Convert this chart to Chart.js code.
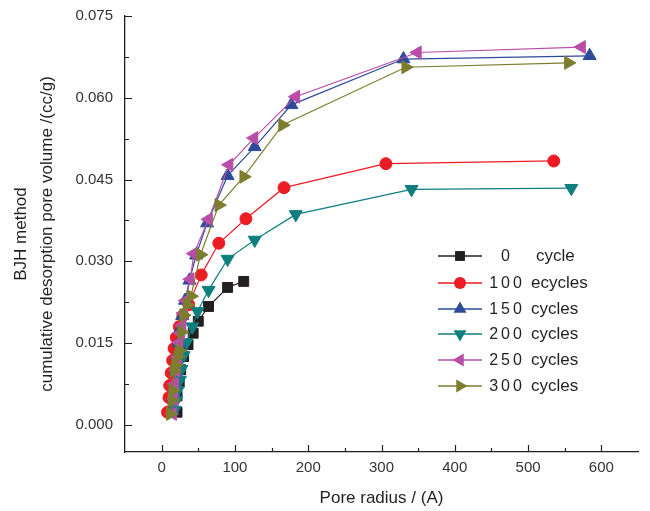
<!DOCTYPE html>
<html>
<head>
<meta charset="utf-8">
<script src="https://cdn.jsdelivr.net/npm/chart.js@4.4.0/dist/chart.umd.js"></script>
<style>
  html, body { margin: 0; padding: 0; background: #fff; }
  #wrap { width: 650px; height: 511px; position: relative; }
</style>
</head>
<body>
<div id="wrap"><canvas id="myChart"></canvas></div>
<script>
// Pore radius (A) and cumulative pore volume (cc/g) per cycling state
const radius0 = [21, 21, 24, 26, 30, 36, 43, 50, 64, 90, 112];
const volume0 = [0.0023, 0.0053, 0.0078, 0.0101, 0.0125, 0.0147, 0.0168, 0.0190, 0.0217, 0.0252, 0.0263];

const radius100 = [8, 10, 11, 13, 15, 17, 20, 24, 29, 37, 54, 78, 115, 167, 306, 535];
const volume100 = [0.0023, 0.0050, 0.0072, 0.0095, 0.0118, 0.0140, 0.0160, 0.0180, 0.0200, 0.0220, 0.0275, 0.0333, 0.0378, 0.0435, 0.0479, 0.0484];

const radius150 = [15, 16, 18, 19, 21, 23, 25, 28, 32, 38, 47, 62, 90, 127, 177, 330, 584];
const volume150 = [0.0025, 0.0050, 0.0075, 0.0100, 0.0125, 0.0150, 0.0175, 0.0200, 0.0228, 0.0265, 0.0311, 0.0370, 0.0457, 0.0510, 0.0587, 0.0671, 0.0677];

const radius200 = [18, 20, 22, 25, 27, 30, 34, 42, 49, 64, 90, 127, 183, 341, 559];
const volume200 = [0.0027, 0.0045, 0.0063, 0.0082, 0.0102, 0.0127, 0.0151, 0.0180, 0.0208, 0.0247, 0.0304, 0.0339, 0.0386, 0.0432, 0.0434];

const radius250 = [15, 17, 18, 20, 22, 24, 26, 28, 30, 33, 39, 44, 64, 92, 126, 183, 349, 573];
const volume250 = [0.0020, 0.0047, 0.0075, 0.0100, 0.0124, 0.0151, 0.0168, 0.0182, 0.0205, 0.0228, 0.0267, 0.0314, 0.0377, 0.0477, 0.0526, 0.0602, 0.0683, 0.0693];

const radius300 = [12, 14, 15, 17, 19, 22, 24, 27, 30, 35, 40, 53, 78, 112, 165, 333, 555];
const volume300 = [0.0020, 0.0045, 0.0063, 0.0099, 0.0109, 0.0125, 0.0136, 0.0170, 0.0201, 0.0220, 0.0236, 0.0312, 0.0403, 0.0455, 0.0550, 0.0656, 0.0664];

const legendNumbers = ['0', '100', '150', '200', '250', '300'];
const legendWords = ['cycle', 'ecycles', 'cycles', 'cycles', 'cycles', 'cycles'];

const xTicks = [0, 100, 200, 300, 400, 500, 600];
const xMinorTicks = [50, 150, 250, 350, 450, 550];
const yTicks = [0.000, 0.015, 0.030, 0.045, 0.060, 0.075];
const yMinorTicks = [0.0075, 0.0225, 0.0375, 0.0525, 0.0675];

const FONT = '"Liberation Sans", Arial, sans-serif';
const INK = '#231f20';

const styles = [
    { color: '#231f20', pointStyle: 'rect', rotation: 0, radius: 7 },
    { color: '#ed1c24', pointStyle: 'circle', rotation: 0, radius: 6 },
    { color: '#2e4b9b', pointStyle: 'triangle', rotation: 0, radius: 7.5 },
    { color: '#0f7e7e', pointStyle: 'triangle', rotation: 180, radius: 7.5 },
    { color: '#b94ea8', pointStyle: 'triangle', rotation: 270, radius: 7.5 },
    { color: '#7d7d2f', pointStyle: 'triangle', rotation: 90, radius: 7.5 }
];

const seriesX = [radius0, radius100, radius150, radius200, radius250, radius300];
const seriesY = [volume0, volume100, volume150, volume200, volume250, volume300];

function toPoints(xs, ys) {
    return xs.map((x, i) => ({ x: x, y: ys[i] }));
}

const datasets = seriesX.map((xs, i) => ({
    label: legendNumbers[i] + ' ' + legendWords[i],
    data: toPoints(xs, seriesY[i]),
    showLine: true,
    borderColor: styles[i].color,
    backgroundColor: styles[i].color,
    borderWidth: 1.2,
    pointStyle: styles[i].pointStyle,
    rotation: styles[i].rotation,
    pointRadius: styles[i].radius,
    pointBorderWidth: 1,
    pointBackgroundColor: styles[i].color,
    pointBorderColor: styles[i].color,
    order: 5 - i
}));

// Draws one marker the same way Chart.js does for its points
function drawMarker(ctx, style, x, y) {
    const r = style.radius;
    let rad = style.rotation * Math.PI / 180;
    ctx.beginPath();
    if (style.pointStyle === 'circle') {
        ctx.arc(x, y, r, 0, Math.PI * 2);
    } else if (style.pointStyle === 'rect') {
        const h = r * Math.SQRT1_2;
        ctx.rect(x - h, y - h, 2 * h, 2 * h);
    } else {
        for (let k = 0; k < 3; k++) {
            const px = x + Math.sin(rad) * r;
            const py = y - Math.cos(rad) * r;
            if (k === 0) ctx.moveTo(px, py); else ctx.lineTo(px, py);
            rad += 2 * Math.PI / 3;
        }
        ctx.closePath();
    }
    ctx.fillStyle = style.color;
    ctx.fill();
}

// Inward major/minor tick marks on the left and bottom axes
const inwardTicks = {
    id: 'inwardTicks',
    afterDraw(chart) {
        const ctx = chart.ctx;
        const xs = chart.scales.x;
        const ys = chart.scales.y;
        const area = chart.chartArea;
        ctx.save();
        ctx.strokeStyle = INK;
        ctx.lineWidth = 1.2;
        ctx.beginPath();
        xTicks.forEach(v => {
            const px = Math.round(xs.getPixelForValue(v)) + 0.5;
            ctx.moveTo(px, area.bottom);
            ctx.lineTo(px, area.bottom - 7);
        });
        xMinorTicks.forEach(v => {
            const px = Math.round(xs.getPixelForValue(v)) + 0.5;
            ctx.moveTo(px, area.bottom);
            ctx.lineTo(px, area.bottom - 4);
        });
        yTicks.forEach(v => {
            const py = Math.round(ys.getPixelForValue(v)) + 0.5;
            ctx.moveTo(area.left, py);
            ctx.lineTo(area.left + 7, py);
        });
        yMinorTicks.forEach(v => {
            const py = Math.round(ys.getPixelForValue(v)) + 0.5;
            ctx.moveTo(area.left, py);
            ctx.lineTo(area.left + 4, py);
        });
        ctx.stroke();
        ctx.restore();
    }
};

// Legend box inside the plot, at the right of the steep part of the curves
const boxLegend = {
    id: 'boxLegend',
    afterDraw(chart) {
        const ctx = chart.ctx;
        const rowY = [256, 283, 309, 334, 360, 386];
        ctx.save();
        styles.forEach((st, i) => {
            const y = rowY[i];
            ctx.strokeStyle = st.color;
            ctx.lineWidth = 1.5;
            ctx.beginPath();
            ctx.moveTo(438, y);
            ctx.lineTo(482, y);
            ctx.stroke();
            drawMarker(ctx, st, 460, y);

            ctx.fillStyle = INK;
            ctx.font = '16px ' + FONT;
            ctx.textBaseline = 'middle';
            ctx.textAlign = 'center';
            ctx.letterSpacing = '3px';
            ctx.fillText(legendNumbers[i], 507, y + 1);
            ctx.letterSpacing = '0px';
            ctx.textAlign = 'left';
            ctx.font = '17px ' + FONT;
            ctx.fillText(legendWords[i], i === 0 ? 536 : 531, y);
        });
        ctx.restore();
    }
};

const ctx = document.getElementById('myChart');

new Chart(ctx, {
    type: 'scatter',
    data: { datasets: datasets },
    options: {
        responsive: true,
        maintainAspectRatio: false,
        animation: false,
        layout: { padding: { top: 16, right: 12, left: 0, bottom: 0 } },
        plugins: {
            legend: { display: false },
            tooltip: { enabled: false }
        },
        scales: {
            x: {
                type: 'linear',
                min: -50,
                max: 650,
                afterBuildTicks: (scale) => {
                    scale.ticks = xTicks.map(v => ({ value: v }));
                },
                afterFit: (scale) => {
                    scale.height = 59;
                    scale.paddingLeft = 0;
                    scale.paddingRight = 0;
                },
                grid: { display: false, drawTicks: false },
                border: { display: true, color: INK, width: 1.3 },
                ticks: {
                    color: '#333',
                    padding: 7,
                    maxRotation: 0,
                    font: { family: FONT, size: 15 },
                    callback: (v) => String(v)
                },
                title: {
                    display: true,
                    text: 'Pore radius / (A)',
                    color: INK,
                    font: { family: FONT, size: 17 },
                    padding: { top: 6, bottom: 2 }
                }
            },
            y: {
                type: 'linear',
                min: -0.005,
                max: 0.075,
                afterBuildTicks: (scale) => {
                    scale.ticks = yTicks.map(v => ({ value: v }));
                },
                afterFit: (scale) => {
                    scale.width = 125;
                    scale.paddingTop = 0;
                    scale.paddingBottom = 0;
                },
                grid: { display: false, drawTicks: false },
                border: { display: true, color: INK, width: 1.3 },
                ticks: {
                    color: '#333',
                    padding: 12,
                    font: { family: FONT, size: 15 },
                    callback: (v) => Number(v).toFixed(3)
                },
                title: {
                    display: true,
                    text: ['BJH method', 'cumulative desorption pore volume /(cc/g)'],
                    color: INK,
                    font: { family: FONT, size: 17, lineHeight: 1.53 },
                    padding: { top: 8, bottom: 0 }
                }
            }
        }
    },
    plugins: [inwardTicks, boxLegend]
});
</script>
</body>
</html>
